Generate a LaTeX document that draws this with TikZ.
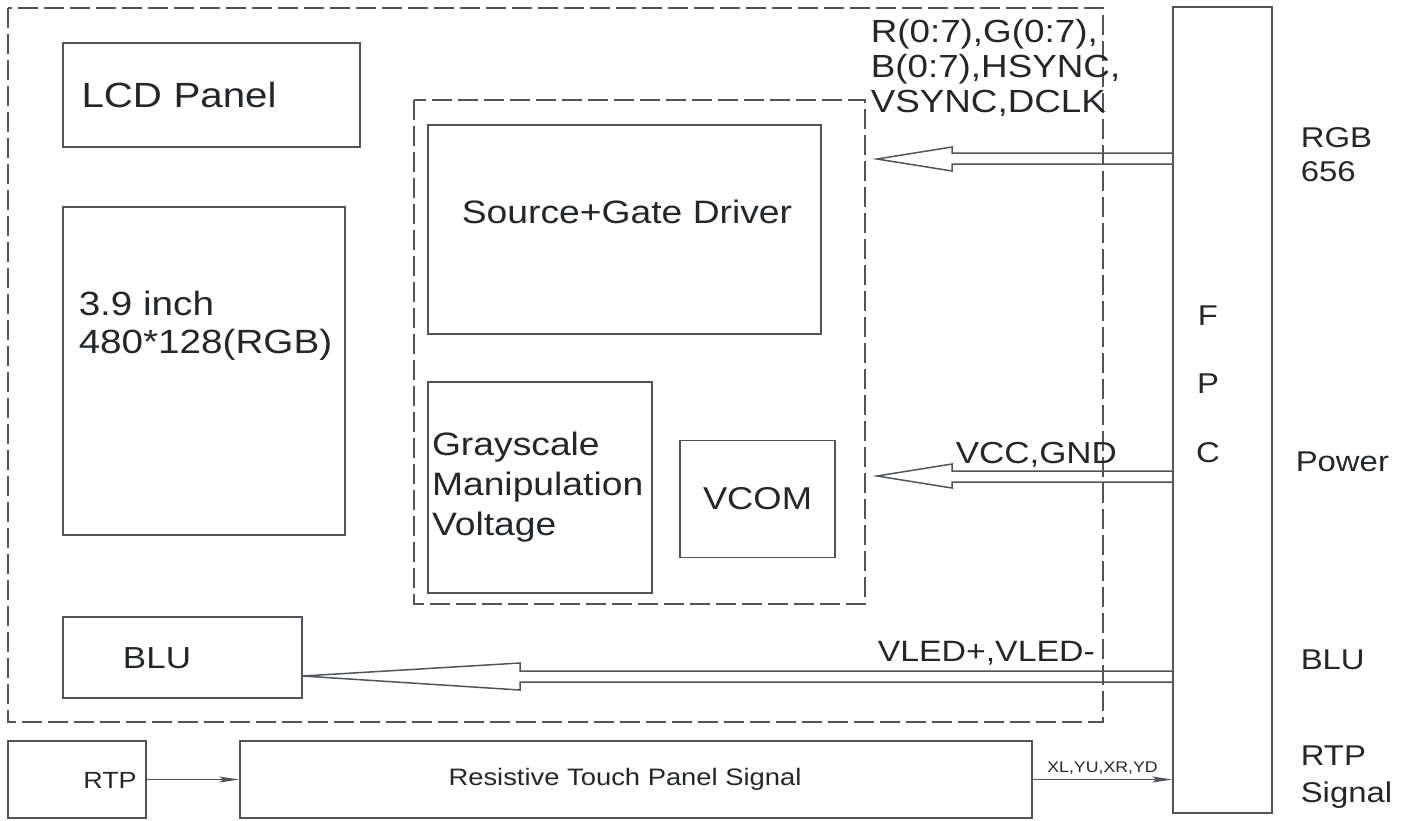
\documentclass[tikz,border=0pt]{standalone}
\usepackage{fontspec}
\setmainfont[FakeStretch=1.15]{Liberation Sans}
\usetikzlibrary{arrows.meta}
\definecolor{linegray}{HTML}{505458}
\definecolor{inkgray}{HTML}{24272A}

\begin{document}
\begin{tikzpicture}[x=0.5pt,y=-0.5pt,line width=0.75pt,
    box/.style={draw=linegray,inner sep=0pt,text=inkgray},
    dashbox/.style={draw=linegray,dash pattern=on 10pt off 3pt},
    txt/.style={text=inkgray,inner sep=0pt,align=left},
    pipe/.style={draw=linegray,line join=miter},
    thin arrow/.style={draw=linegray,line width=0.6pt,-{Stealth[length=10pt,width=3pt,inset=2pt]}}]
    \useasboundingbox (0,0) rectangle (1411,820);

    % frames
    \draw[dashbox] (8,8) rectangle (1103,722);
    \draw[dashbox] (414,100) rectangle (865,604);

    % blocks of the module
    \node[box,minimum width=148.5pt,minimum height=52pt,text width=130pt,font=\fontsize{17.5}{21}\selectfont] (lcd) at (211.5,95) {LCD Panel};
    \node[box,minimum width=141pt,minimum height=164pt] (panel) at (204,371) {};
    \node[txt,anchor=north west,font=\fontsize{16.8}{19}\selectfont] (paneltxt) at (78,290) {3.9 inch\\480*128(RGB)};
    \node[box,minimum width=196.5pt,minimum height=104.5pt] (driver) at (624.5,229.5) {};
    \node[txt,font=\fontsize{16.2}{20}\selectfont] (drivertxt) at (627,212) {Source+Gate Driver};
    \node[box,minimum width=112pt,minimum height=105.5pt,text width=108pt,align=left,font=\fontsize{16.2}{20}\selectfont] (gray) at (540,487.5) {Grayscale\\Manipulation\\Voltage};
    \node[box,minimum width=77.5pt,minimum height=58.5pt,font=\fontsize{15.8}{20}\selectfont] (vcom) at (757.5,499) {VCOM};
    \node[box,minimum width=119.5pt,minimum height=40.5pt] (blu) at (182.5,657.5) {};
    \node[txt,font=\fontsize{15.2}{18}\selectfont] (blutxt) at (157,658) {BLU};

    % connector and touch panel
    \node[box,minimum width=49.5pt,minimum height=403pt] (fpc) at (1222.5,410) {};
    \node[txt,font=\fontsize{14.3}{18}\selectfont] (f) at (1208,316) {F};
    \node[txt,font=\fontsize{14.3}{18}\selectfont] (p) at (1208,384) {P};
    \node[txt,font=\fontsize{14.3}{18}\selectfont] (c) at (1208,453) {C};
    \node[box,minimum width=69pt,minimum height=38.5pt] (rtp) at (77,779.5) {};
    \node[txt,font=\fontsize{11.7}{14}\selectfont] (rtptxt) at (110,780) {RTP};
    \node[box,minimum width=396pt,minimum height=38.5pt,font=\fontsize{11.9}{14}\selectfont] (touch) at (636,779.5) {\hspace{-11pt}Resistive Touch Panel Signal};

    % wide arrows from the FPC
    \draw[pipe] (fpc.west |- 0,153) -- (952,153) -- (952,147) -- (877,159) -- (952,171) -- (952,164) -- (fpc.west |- 0,164);
    \draw[pipe] (fpc.west |- 0,471) -- (952,471) -- (952,464) -- (877,476) -- (952,488) -- (952,482) -- (fpc.west |- 0,482);
    \draw[pipe] (fpc.west |- 0,671) -- (520,671) -- (520,663) -- (blu.east |- 0,676) -- (520,690) -- (520,682) -- (fpc.west |- 0,682);

    % signal names
    \node[txt,anchor=north west,font=\fontsize{16}{17.5}\selectfont] (rgbsig) at (870,19) {R(0:7),G(0:7),\\B(0:7),HSYNC,\\VSYNC,DCLK};
    \node[txt,anchor=west,font=\fontsize{15.2}{18}\selectfont] (pwrsig) at (955,455) {VCC,GND};
    \node[txt,anchor=west,font=\fontsize{14.7}{18}\selectfont] (ledsig) at (877,653) {VLED+,VLED-};

    % touch signal path
    \draw[thin arrow] (rtp) -- (touch);
    \draw[thin arrow] (touch.east) -- node[above=2pt,txt,font=\fontsize{7.7}{9}\selectfont] {XL,YU,XR,YD} (touch.east -| fpc.west);

    % interface names
    \node[txt,anchor=west,font=\fontsize{14.3}{17}\selectfont] (rgbname) at (1300,155) {RGB\\656};
    \node[txt,anchor=west,font=\fontsize{14.3}{18}\selectfont] (pwrname) at (1295,462) {Power};
    \node[txt,anchor=west,font=\fontsize{14.3}{18}\selectfont] (bluname) at (1300,660) {BLU};
    \node[txt,anchor=west,font=\fontsize{14.3}{18.5}\selectfont] (rtpname) at (1300,777) {RTP\\Signal};
\end{tikzpicture}
\end{document}
